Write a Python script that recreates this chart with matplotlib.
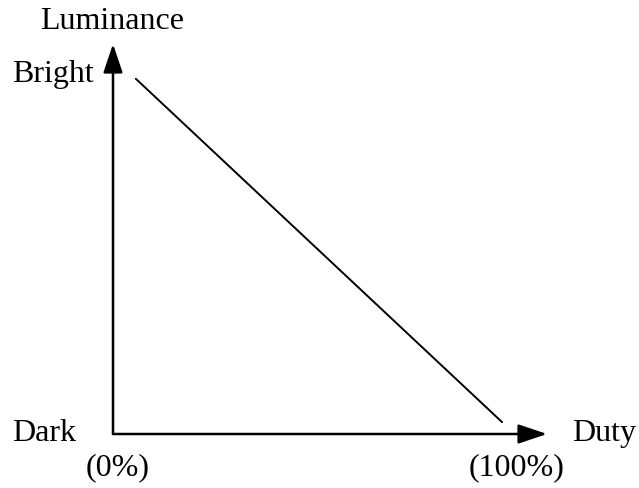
import matplotlib
matplotlib.use("Agg")
import matplotlib.pyplot as plt

# Data: luminance falls linearly as duty rises
duty = [0, 100]            # percent
luminance = [1.0, 0.0]     # 1 = Bright, 0 = Dark
x_tick_labels = ["(0%)", "(100%)"]
y_level_labels = ["Bright", "Dark"]
x_axis_label = "Duty"
y_axis_label = "Luminance"

W, H = 639, 488
plt.rcParams['font.family'] = ['Liberation Serif', 'DejaVu Serif']
FS = 23

fig = plt.figure(figsize=(W / 100, H / 100), dpi=100)

def fx(px):
    return px / W

def fy(py):
    return 1 - py / H

# Axes whose data area spans the drawn line
x0, x1 = 135, 503
y0, y1 = 78, 423
ax = fig.add_axes([fx(x0), fy(y1), fx(x1) - fx(x0), fy(y0) - fy(y1)])
ax.set_xlim(0, 100)
ax.set_ylim(0, 1)
ax.axis('off')
ax.plot(duty, luminance, color='black', lw=1.4, solid_capstyle='butt')

# Axis arrows (figure pixel coordinates)
ox, oy = 113, 434
arrow_style = '-|>,head_length=0.8,head_width=0.27'
for tip in [(ox, 44), (547, oy)]:
    ax.annotate('', xy=(fx(tip[0]), fy(tip[1])), xytext=(fx(ox), fy(oy)),
                xycoords='figure fraction', textcoords='figure fraction',
                arrowprops=dict(arrowstyle=arrow_style, mutation_scale=22,
                                color='black', lw=1.8, shrinkA=0, shrinkB=0))

# Labels
fig.text(fx(112), fy(29), y_axis_label, ha='center', va='baseline', fontsize=FS)
fig.text(fx(12), fy(82), y_level_labels[0], ha='left', va='baseline', fontsize=FS)
fig.text(fx(12), fy(441), y_level_labels[1], ha='left', va='baseline', fontsize=FS)
fig.text(fx(572), fy(441), x_axis_label, ha='left', va='baseline', fontsize=FS)
fig.text(fx(118), fy(475), x_tick_labels[0], ha='center', va='baseline', fontsize=FS)
fig.text(fx(517), fy(475), x_tick_labels[1], ha='center', va='baseline', fontsize=FS)

fig.savefig("out.png", dpi=100, facecolor='white')
